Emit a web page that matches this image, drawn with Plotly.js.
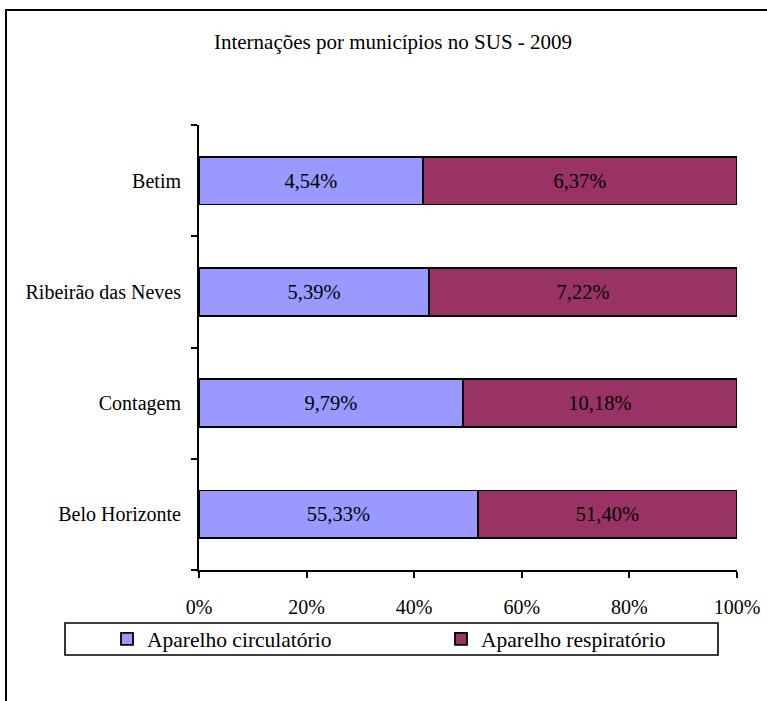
<!DOCTYPE html>
<html>
<head>
<meta charset="utf-8">
<script src="https://cdn.plot.ly/plotly-3.0.1.min.js"></script>
<style>body{margin:0;padding:0;background:#fff}#chart{width:767px;height:701px}</style>
</head>
<body>
<div id="chart"></div>
<script>
const categories = ["Belo Horizonte", "Contagem", "Ribeirão das Neves", "Betim"];
const circulatorio = [55.33, 9.79, 5.39, 4.54];
const respiratorio = [51.40, 10.18, 7.22, 6.37];
const seriesNames = ["Aparelho circulatório", "Aparelho respiratório"];
const xTickVals = [0, 20, 40, 60, 80, 100];
const xTickText = ["0%", "20%", "40%", "60%", "80%", "100%"];

const fmt = v => v.toFixed(2).replace('.', ',') + '%';
const FONT = '"Liberation Serif", "Times New Roman", Times, serif';

// plot area in px
const L = 199, R = 737, T = 125, B = 570, W = 767, H = 701;
const pw = R - L, ph = B - T;
const px = x => (x - L) / pw;
const py = y => (B - y) / ph;

function barTrace(name, vals, color, legendId) {
  return {
    type: 'bar', orientation: 'h', name: name, legend: legendId,
    y: categories, x: vals,
    text: vals.map(fmt), textposition: 'inside', insidetextanchor: 'middle',
    textangle: 0, constraintext: 'none',
    textfont: {family: FONT, size: 20.5, color: '#000'},
    marker: {color: color, line: {color: '#000', width: 1.8}},
    hoverinfo: 'skip'
  };
}

const data = [
  barTrace(seriesNames[0], circulatorio, '#9999FF', 'legend'),
  barTrace(seriesNames[1], respiratorio, '#993366', 'legend2')
];

const legendBase = {orientation: 'h', xanchor: 'left', y: py(639), yanchor: 'middle',
  itemwidth: 30, bgcolor: 'rgba(0,0,0,0)', borderwidth: 0,
  font: {family: FONT, size: 21.5, color: '#000'}};

const layout = {
  width: W, height: H,
  margin: {l: L, r: W - R, t: T, b: H - B, pad: 0},
  paper_bgcolor: '#fff', plot_bgcolor: '#fff',
  font: {family: FONT, size: 20, color: '#000'},
  barmode: 'stack', barnorm: 'percent', bargap: 0.57,
  title: {text: 'Internações por municípios no SUS - 2009', x: 393 / W, xanchor: 'center',
          y: 1 - 42 / H, yanchor: 'middle', yref: 'container', font: {family: FONT, size: 21, color: '#000'}},
  xaxis: {range: [0, 100], tickmode: 'array', tickvals: xTickVals, ticktext: xTickText, showgrid: false, zeroline: false,
          showline: true, linecolor: '#000', linewidth: 2, ticks: 'outside', ticklen: 6, tickwidth: 2,
          tickcolor: '#000', ticklabelstandoff: 12, tickfont: {family: FONT, size: 20, color: '#000'}, fixedrange: true},
  yaxis: {type: 'category', categoryorder: 'array', categoryarray: categories,
          showgrid: false, zeroline: false, showline: true, linecolor: '#000', linewidth: 2,
          ticks: 'outside', tickson: 'boundaries', ticklen: 6, tickwidth: 2, tickcolor: '#000',
          ticklabelstandoff: 12, tickfont: {family: FONT, size: 20, color: '#000'}, fixedrange: true},
  showlegend: true,
  legend: Object.assign({}, legendBase, {x: px(107)}),
  legend2: Object.assign({}, legendBase, {x: px(441)}),
  shapes: [
    {type: 'rect', xref: 'paper', yref: 'paper', x0: px(65), x1: px(718), y0: py(655), y1: py(623),
     line: {color: '#000', width: 1.6}, fillcolor: 'rgba(0,0,0,0)', layer: 'below'},
    {type: 'rect', xref: 'paper', yref: 'paper', x0: px(6), x1: px(800), y0: py(760), y1: py(10),
     line: {color: '#000', width: 2}, fillcolor: 'rgba(0,0,0,0)', layer: 'below'}
  ]
};

Plotly.newPlot('chart', data, layout, {displayModeBar: false, staticPlot: true});
</script>
</body>
</html>
